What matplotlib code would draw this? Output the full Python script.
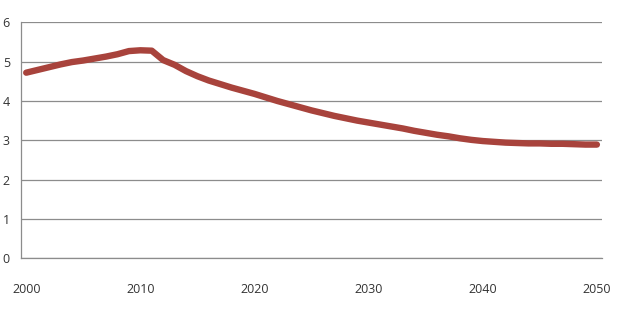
import matplotlib
matplotlib.use('Agg')
import matplotlib.pyplot as plt

# years and values
years = list(range(2000, 2051))
values = [
    4.72, 4.79, 4.86, 4.93, 4.99, 5.03, 5.08, 5.13, 5.19, 5.27,
    5.29, 5.28, 5.04, 4.92, 4.76, 4.63, 4.52, 4.43, 4.34, 4.26,
    4.18, 4.09, 4.00, 3.92, 3.84, 3.76, 3.69, 3.62, 3.56, 3.50,
    3.45, 3.40, 3.35, 3.30, 3.24, 3.19, 3.14, 3.10, 3.05, 3.01,
    2.98, 2.96, 2.94, 2.93, 2.92, 2.92, 2.91, 2.91, 2.90, 2.89,
    2.89,
]
x_ticks = [2000, 2010, 2020, 2030, 2040, 2050]
y_ticks = [0, 1, 2, 3, 4, 5, 6]

plt.rcParams['font.family'] = ['Open Sans', 'DejaVu Sans']

fig = plt.figure(figsize=(6.2, 3.11), dpi=100)
ax = fig.add_axes([0.034, 0.170, 0.937, 0.758])

ax.plot(years, values, color='#a8433c', linewidth=4.6,
        solid_capstyle='round', solid_joinstyle='round', zorder=3)

# style axes
ax.set_xlim(1999.55, 2050.45)
ax.set_ylim(0, 6)
ax.set_xticks(x_ticks)
ax.set_yticks(y_ticks)
ax.grid(axis='y', color='#8c8c8c', linewidth=0.9)
ax.set_axisbelow(True)
for side in ['top', 'right']:
    ax.spines[side].set_visible(False)
ax.spines['left'].set_color('#8c8c8c')
ax.spines['bottom'].set_color('#8c8c8c')
ax.spines['left'].set_linewidth(0.9)
ax.spines['bottom'].set_linewidth(0.9)
ax.tick_params(axis='both', length=0, labelsize=9, labelcolor='#333333')
ax.tick_params(axis='y', pad=8)
ax.tick_params(axis='x', pad=18)

fig.savefig('out.png', dpi=100)
